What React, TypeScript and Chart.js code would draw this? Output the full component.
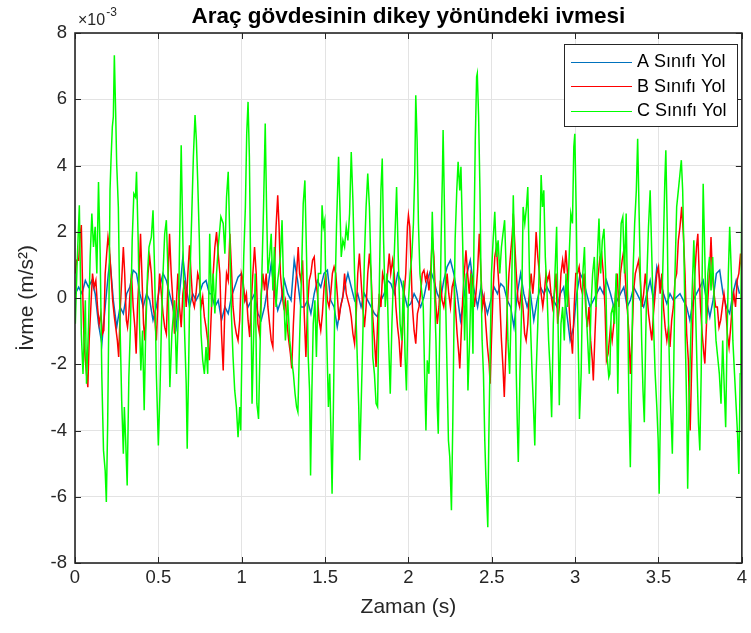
import React, { useEffect, useRef } from "react";
import { Chart, registerables } from "chart.js";

Chart.register(...registerables);

const TITLE = "Araç gövdesinin dikey yönündeki ivmesi";
const X_LABEL = "Zaman (s)";
const Y_LABEL = "İvme (m/s²)";
const Y_EXPONENT_BASE = "×10";
const Y_EXPONENT_POWER = "-3";
const SERIES_NAMES = ["A Sınıfı Yol", "B Sınıfı Yol", "C Sınıfı Yol"];
const SERIES_COLORS = ["#0072BD", "#FF0000", "#00FF00"];
const X_TICKS = [0, 0.5, 1, 1.5, 2, 2.5, 3, 3.5, 4];
const Y_TICKS = [-8, -6, -4, -2, 0, 2, 4, 6, 8];

// [time (s), acceleration (×10^-3 m/s²)]
const A_SINIFI: [number, number][] = [
  [0.002,0.13],[0.022,0.33],[0.042,0.13],[0.062,0.53],[0.081,0.33],[0.101,0.53],[0.121,0.13],[0.141,-0.78],[0.161,-1.38],[0.181,-0.27],[0.200,0.74],[0.210,1.14],[0.230,-0.07],[0.250,-0.88],[0.270,-0.27],[0.290,-0.47],[0.310,0.13],[0.329,0.33],[0.349,0.84],[0.369,0.74],[0.389,0.13],[0.409,-0.27],[0.429,0.13],[0.448,-0.07],[0.468,-0.67],[0.488,-0.27],[0.508,0.33],[0.528,0.74],[0.548,0.53],[0.567,0.13],[0.587,-0.27],[0.607,-0.88],[0.627,0.13],[0.647,1.24],[0.667,0.33],[0.687,-0.27],[0.706,0.13],[0.726,-0.07],[0.746,0.13],[0.766,0.43],[0.786,0.53],[0.806,0.13],[0.819,0.13],
  [0.839,-0.27],[0.859,-0.07],[0.879,-0.67],[0.899,-0.27],[0.919,-0.47],[0.938,0.03],[0.958,0.33],[0.978,0.63],[0.998,0.74],[1.018,0.03],[1.038,-0.27],[1.058,-0.07],[1.077,0.13],[1.097,-0.47],[1.117,-0.67],[1.137,-0.27],[1.157,0.33],[1.177,1.04],[1.196,0.13],[1.216,-0.37],[1.236,-0.07],[1.256,0.53],[1.276,0.13],[1.296,-0.07],[1.315,1.14],[1.335,0.53],[1.355,-0.27],[1.375,-0.27],[1.395,-0.07],[1.415,-0.47],[1.435,0.13],[1.454,0.53],[1.474,0.33],[1.494,0.74],[1.514,0.84],[1.534,-0.07],[1.554,-0.27],[1.573,-0.88],[1.593,-0.27],
  [1.617,0.33],[1.637,0.74],[1.657,0.33],[1.677,-0.07],[1.696,0.13],[1.716,-0.27],[1.736,0.13],[1.756,-0.07],[1.776,-0.27],[1.796,-0.47],[1.815,-0.57],[1.835,-0.07],[1.855,0.13],[1.875,0.53],[1.895,0.43],[1.915,0.13],[1.935,0.74],[1.954,0.53],[1.974,0.13],[1.994,-0.27],[2.014,-0.17],[2.034,0.13],[2.054,-0.07],[2.073,-0.27],[2.093,0.03],[2.113,0.53],[2.133,0.84],[2.153,0.53],[2.173,0.13],[2.192,-0.07],[2.212,0.53],[2.232,0.94],[2.252,1.14],[2.272,0.74],[2.292,0.13],[2.312,-0.67],[2.331,-0.07],[2.351,0.74],[2.371,1.14],[2.391,0.33],
  [2.415,-0.27],[2.435,0.33],[2.454,-0.07],[2.474,-0.47],[2.494,-0.07],[2.514,0.33],[2.534,0.13],[2.554,0.43],[2.573,0.33],[2.593,-0.07],[2.613,-0.27],[2.633,-0.88],[2.653,0.13],[2.673,0.74],[2.692,0.13],[2.712,-0.27],[2.732,0.13],[2.752,-0.67],[2.772,-0.07],[2.792,0.33],[2.812,0.13],[2.831,0.33],[2.851,0.13],[2.871,-0.07],[2.891,-0.27],[2.911,0.13],[2.931,0.33],[2.950,-0.47],[2.970,-1.28],[2.990,-0.88],[3.010,0.13],[3.030,0.74],[3.050,0.53],[3.069,0.13],[3.089,-0.27],[3.109,-0.07],[3.129,0.13],[3.149,0.33],[3.169,0.13],[3.188,0.53],
  [3.212,0.13],[3.232,-0.27],[3.252,-0.07],[3.272,0.13],[3.292,0.33],[3.312,-0.27],[3.331,-0.07],[3.351,0.33],[3.371,0.13],[3.391,-0.07],[3.411,-0.27],[3.431,0.13],[3.450,0.53],[3.470,-0.07],[3.490,0.94],[3.510,0.53],[3.530,0.13],[3.550,-0.17],[3.569,0.13],[3.589,-0.07],[3.609,0.03],[3.629,0.13],[3.649,-0.07],[3.669,-0.27],[3.688,-0.67],[3.708,-0.07],[3.728,0.13],[3.748,0.33],[3.768,0.53],[3.788,-0.07],[3.808,-0.57],[3.827,-0.07],[3.847,0.74],[3.867,0.84],[3.887,0.13],[3.907,-0.27],[3.927,-0.47],[3.946,0.13],[3.966,0.53],[3.986,0.13],
];

const B_SINIFI: [number, number][] = [
  [0.002,0.74],[0.010,1.14],[0.022,1.14],[0.032,1.94],[0.038,2.20],[0.046,0.23],[0.054,-1.28],[0.062,-1.88],[0.069,-2.29],[0.077,-2.69],[0.085,-1.28],[0.095,-0.27],[0.105,0.74],[0.115,0.33],[0.125,0.53],[0.135,-0.27],[0.145,-0.78],[0.155,-0.47],[0.165,-1.08],[0.173,-0.98],[0.181,0.74],[0.190,1.34],[0.198,1.84],[0.206,1.54],[0.216,0.74],[0.226,-0.07],[0.236,-0.57],[0.244,-0.88],[0.254,-1.28],[0.262,-1.78],[0.272,-0.27],[0.280,0.53],[0.290,1.54],[0.298,0.74],[0.308,-0.67],[0.315,-0.88],[0.323,-0.47],[0.331,0.23],[0.339,0.74],[0.349,-0.27],[0.359,-0.88],[0.367,-1.68],[0.375,-0.27],[0.385,0.74],[0.393,1.94],[0.401,0.74],[0.411,-0.78],[0.419,-1.28],[0.429,-0.07],[0.438,0.74],[0.448,1.24],[0.458,0.74],[0.468,-0.27],[0.478,-0.57],[0.488,-1.28],[0.498,-0.07],[0.508,0.74],[0.518,0.13],[0.528,-0.47],[0.538,-0.88],[0.548,-1.08],[0.558,0.53],[0.567,1.94],[0.577,0.74],[0.587,-0.07],[0.597,-1.08],[0.607,-0.27],[0.617,0.74],[0.627,-0.27],[0.637,-0.88],[0.647,0.13],[0.657,0.53],[0.667,-0.27],[0.677,0.74],[0.687,1.59],[0.696,0.74],[0.706,-0.07],[0.716,-0.27],[0.726,0.13],[0.736,0.74],[0.746,0.53],[0.756,-0.27],[0.766,0.03],[0.776,-0.57],[0.786,-0.88],[0.796,-1.28],[0.806,-1.88],
  [0.819,-0.27],[0.829,0.74],[0.839,1.54],[0.849,1.99],[0.859,1.34],[0.869,0.74],[0.879,-1.08],[0.889,-2.19],[0.899,-0.27],[0.909,0.74],[0.919,0.53],[0.929,1.94],[0.938,0.94],[0.948,-0.27],[0.958,-0.78],[0.968,-1.08],[0.978,-1.28],[0.988,-0.67],[0.998,0.74],[1.008,0.53],[1.018,-0.07],[1.028,0.13],[1.038,-0.67],[1.048,-1.18],[1.058,-0.07],[1.067,0.74],[1.077,1.54],[1.087,0.74],[1.097,-0.78],[1.107,-1.08],[1.117,0.13],[1.127,0.74],[1.137,0.23],[1.147,0.74],[1.157,-0.27],[1.167,-0.78],[1.177,-1.28],[1.187,-1.48],[1.196,0.74],[1.206,2.15],[1.216,3.10],[1.224,2.15],[1.232,0.74],[1.242,0.13],[1.252,-0.27],[1.262,-0.07],[1.272,-0.78],[1.282,-1.28],[1.292,-1.68],[1.300,-2.13],[1.310,-0.78],[1.319,0.13],[1.329,0.74],[1.339,1.54],[1.347,0.74],[1.355,0.53],[1.365,1.14],[1.375,-0.47],[1.385,-1.78],[1.395,-0.27],[1.405,0.53],[1.415,0.74],[1.425,1.14],[1.435,1.24],[1.444,0.53],[1.454,0.13],[1.464,-0.67],[1.474,-0.98],[1.484,-0.47],[1.494,0.33],[1.504,0.74],[1.514,-0.07],[1.524,-0.27],[1.534,0.13],[1.544,0.74],[1.554,0.94],[1.564,0.74],[1.573,0.13],[1.583,-0.67],[1.593,-0.27],
  [1.607,0.03],[1.617,0.74],[1.627,0.13],[1.637,-0.07],[1.647,-0.27],[1.657,-0.57],[1.667,-1.08],[1.677,-1.38],[1.687,-0.47],[1.696,0.74],[1.706,1.34],[1.716,0.53],[1.726,-0.27],[1.736,-0.88],[1.746,-0.27],[1.756,0.74],[1.766,1.34],[1.776,0.74],[1.786,-0.57],[1.796,-1.28],[1.806,-2.08],[1.815,-0.78],[1.825,0.13],[1.835,-0.27],[1.845,0.74],[1.855,0.53],[1.865,0.13],[1.875,0.74],[1.885,1.34],[1.894,0.74],[1.905,1.14],[1.915,0.74],[1.925,-0.27],[1.935,-0.88],[1.944,-1.28],[1.954,-2.08],[1.964,-1.08],[1.974,0.13],[1.984,0.74],[1.994,2.15],[2.000,2.50],[2.008,2.15],[2.014,1.24],[2.024,-0.27],[2.034,-0.98],[2.044,-1.38],[2.054,-0.47],[2.063,-0.27],[2.073,0.13],[2.083,0.74],[2.093,0.84],[2.103,0.53],[2.113,0.74],[2.123,0.23],[2.133,0.74],[2.143,1.84],[2.153,1.24],[2.163,-0.07],[2.173,-0.78],[2.183,-0.27],[2.192,0.53],[2.202,-0.07],[2.212,-0.27],[2.222,0.13],[2.232,0.74],[2.242,0.13],[2.252,-0.27],[2.262,0.33],[2.272,0.53],[2.282,-0.27],[2.292,-1.08],[2.302,-1.68],[2.308,-2.13],[2.315,-1.28],[2.325,-0.07],[2.335,0.74],[2.345,1.44],[2.355,0.74],[2.365,0.13],[2.375,0.74],[2.385,0.53],[2.395,-0.27],[2.405,0.13],
  [2.415,0.84],[2.425,1.94],[2.435,0.74],[2.444,-0.27],[2.454,0.03],[2.464,-0.78],[2.474,-1.48],[2.484,-1.98],[2.490,-2.59],[2.498,-1.28],[2.508,0.23],[2.518,1.24],[2.528,1.54],[2.538,0.74],[2.548,-0.07],[2.558,-1.28],[2.567,-2.08],[2.575,-2.99],[2.583,-1.78],[2.593,-0.27],[2.603,0.74],[2.613,1.34],[2.623,1.94],[2.629,2.55],[2.637,1.74],[2.647,0.74],[2.657,-0.07],[2.667,-0.27],[2.677,0.23],[2.687,-0.27],[2.697,-1.08],[2.706,-1.28],[2.716,-0.78],[2.726,0.23],[2.736,0.74],[2.746,0.13],[2.756,0.74],[2.766,1.99],[2.776,1.24],[2.786,0.74],[2.796,0.13],[2.806,-0.27],[2.815,0.13],[2.825,0.74],[2.835,0.53],[2.845,0.74],[2.855,0.13],[2.865,-0.27],[2.875,0.13],[2.885,0.74],[2.895,-0.78],[2.905,-0.27],[2.915,0.74],[2.925,1.14],[2.935,0.74],[2.944,1.44],[2.954,0.74],[2.964,-0.27],[2.974,-1.08],[2.984,-1.68],[2.994,-0.27],[3.004,0.74],[3.014,0.74],[3.024,0.94],[3.034,0.33],[3.044,0.13],[3.054,0.74],[3.063,-0.27],[3.073,-0.88],[3.083,-0.27],[3.093,-1.28],[3.103,-1.88],[3.109,-2.49],[3.119,-1.08],[3.129,0.13],[3.139,0.74],[3.149,1.24],[3.159,1.34],[3.169,0.74],[3.179,-0.27],[3.188,-1.88],[3.198,-1.68],
  [3.212,-0.88],[3.222,-1.28],[3.232,-0.78],[3.242,0.13],[3.252,0.74],[3.262,-0.27],[3.272,0.74],[3.282,1.14],[3.292,1.44],[3.302,0.53],[3.312,-0.27],[3.323,-1.08],[3.331,-2.29],[3.341,-1.28],[3.351,0.23],[3.361,0.74],[3.371,0.94],[3.381,1.14],[3.391,0.53],[3.401,-0.27],[3.411,0.13],[3.421,0.74],[3.431,0.13],[3.440,-0.47],[3.450,-0.88],[3.460,-1.28],[3.470,-0.47],[3.480,0.13],[3.490,0.74],[3.500,0.94],[3.510,0.13],[3.520,0.74],[3.530,-0.27],[3.540,-0.88],[3.550,-1.28],[3.560,-0.88],[3.569,-1.48],[3.579,-0.67],[3.589,-0.27],[3.599,0.53],[3.609,0.74],[3.619,1.74],[3.629,2.15],[3.639,2.75],[3.649,1.94],[3.659,0.74],[3.669,-1.08],[3.679,-1.88],[3.685,-3.29],[3.690,-4.00],[3.698,-2.29],[3.708,-0.27],[3.718,0.74],[3.728,1.54],[3.736,1.94],[3.744,0.74],[3.752,-0.27],[3.762,-1.08],[3.772,-1.68],[3.778,-1.98],[3.788,-0.78],[3.798,0.13],[3.808,0.94],[3.815,1.84],[3.823,0.74],[3.833,0.13],[3.843,-0.27],[3.853,-0.27],[3.863,-0.88],[3.873,-0.67],[3.883,-0.27],[3.893,0.13],[3.903,-0.27],[3.913,-1.08],[3.923,-1.48],[3.933,-0.88],[3.942,-0.27],[3.952,0.13],[3.962,-0.27],[3.972,0.53],[3.982,0.74],[3.992,1.34],[4.000,0.74],
];

const C_SINIFI: [number, number][] = [
  [0.002,-0.78],[0.012,0.94],[0.026,2.80],[0.038,-1.08],[0.048,-2.29],[0.062,-0.07],[0.069,-2.59],[0.081,-0.88],[0.091,1.24],[0.101,2.55],[0.111,1.54],[0.121,2.15],[0.131,0.74],[0.141,3.50],[0.151,1.34],[0.161,-2.39],[0.171,-4.60],[0.181,-5.21],[0.188,-6.16],[0.196,-3.80],[0.204,-0.07],[0.210,3.25],[0.216,4.16],[0.224,5.17],[0.230,5.47],[0.236,7.33],[0.244,5.57],[0.250,4.06],[0.260,2.75],[0.270,-0.78],[0.280,-3.09],[0.290,-4.70],[0.296,-3.29],[0.304,-4.30],[0.313,-5.66],[0.323,-2.39],[0.333,-0.78],[0.343,1.74],[0.353,3.15],[0.363,3.05],[0.369,3.81],[0.379,1.74],[0.387,-0.78],[0.395,-2.19],[0.405,-0.98],[0.415,-3.39],[0.423,-1.28],[0.435,0.74],[0.444,1.54],[0.458,1.84],[0.468,2.65],[0.478,0.74],[0.488,-2.29],[0.500,-4.45],[0.510,-2.79],[0.518,-0.88],[0.528,0.74],[0.538,1.94],[0.548,2.35],[0.558,0.74],[0.569,-2.69],[0.581,-1.08],[0.597,-0.07],[0.609,-2.29],[0.621,-0.27],[0.637,4.61],[0.647,1.74],[0.657,-0.98],[0.667,-2.59],[0.673,-4.55],[0.681,-2.29],[0.690,0.74],[0.700,2.45],[0.710,4.26],[0.720,5.52],[0.728,4.76],[0.736,3.55],[0.746,1.74],[0.756,-1.08],[0.766,-1.88],[0.776,-2.29],[0.786,-1.48],[0.796,-2.29],
  [0.808,1.94],[0.819,-0.27],[0.829,0.74],[0.839,-0.47],[0.849,0.74],[0.859,1.54],[0.875,2.45],[0.889,2.25],[0.899,1.34],[0.909,3.05],[0.919,3.81],[0.929,1.74],[0.938,-0.47],[0.948,-1.78],[0.958,-2.79],[0.968,-3.29],[0.978,-4.20],[0.988,-3.29],[0.994,-4.00],[1.002,-1.28],[1.012,1.24],[1.022,2.75],[1.030,4.96],[1.038,5.92],[1.046,4.26],[1.054,0.74],[1.062,-3.19],[1.071,-1.28],[1.081,0.74],[1.091,-3.19],[1.101,-3.65],[1.111,-1.28],[1.121,0.74],[1.131,2.75],[1.141,5.27],[1.149,2.75],[1.157,0.74],[1.167,1.24],[1.177,1.94],[1.187,0.23],[1.196,1.54],[1.206,-0.27],[1.216,0.53],[1.232,1.24],[1.242,2.35],[1.252,0.13],[1.262,-1.28],[1.276,-0.07],[1.288,-1.28],[1.300,-1.88],[1.310,-2.29],[1.320,-2.89],[1.329,-3.29],[1.337,-3.44],[1.347,-1.28],[1.359,0.74],[1.369,2.85],[1.379,3.55],[1.389,1.24],[1.399,-1.78],[1.407,-2.79],[1.413,-5.36],[1.421,-2.79],[1.429,-0.78],[1.439,-0.07],[1.448,-1.78],[1.460,0.74],[1.474,0.74],[1.482,2.80],[1.490,2.15],[1.498,2.35],[1.508,-0.78],[1.520,-3.29],[1.528,-2.29],[1.536,-4.30],[1.542,-5.91],[1.550,-3.29],[1.558,-0.27],[1.569,2.25],[1.581,4.26],[1.589,2.75],
  [1.597,1.24],[1.607,1.74],[1.617,1.54],[1.627,2.15],[1.637,1.74],[1.647,2.55],[1.657,4.41],[1.667,2.95],[1.677,0.74],[1.687,-0.78],[1.696,-2.29],[1.702,-3.29],[1.708,-4.90],[1.716,-3.29],[1.726,-1.28],[1.736,1.24],[1.746,2.75],[1.756,3.76],[1.766,2.75],[1.776,0.74],[1.786,-1.78],[1.796,-2.29],[1.806,-3.19],[1.815,-3.29],[1.825,0.23],[1.835,3.25],[1.843,4.21],[1.851,1.74],[1.861,-0.27],[1.871,0.74],[1.881,-1.28],[1.891,-2.89],[1.901,-0.78],[1.911,0.74],[1.921,2.15],[1.929,3.35],[1.939,1.24],[1.950,-0.78],[1.960,-1.28],[1.970,0.53],[1.980,-1.78],[1.988,-2.79],[1.998,-0.27],[2.010,0.74],[2.020,1.24],[2.030,2.25],[2.038,3.76],[2.044,6.12],[2.052,4.76],[2.060,2.25],[2.069,0.74],[2.079,0.23],[2.089,-0.27],[2.097,-2.29],[2.105,-4.00],[2.113,-1.88],[2.123,-2.29],[2.133,-0.27],[2.143,2.60],[2.153,0.74],[2.165,-1.28],[2.173,-3.29],[2.179,-4.10],[2.187,-1.28],[2.196,1.74],[2.204,3.76],[2.208,5.07],[2.216,2.75],[2.224,-0.27],[2.232,-2.29],[2.240,-4.30],[2.248,-4.80],[2.258,-6.41],[2.266,-3.80],[2.272,-1.28],[2.280,1.74],[2.290,3.25],[2.298,4.11],[2.308,3.25],[2.315,3.96],[2.325,1.74],[2.337,-1.28],[2.347,0.74],[2.357,-2.79],[2.367,-1.28],[2.377,0.74],[2.387,-1.68],[2.393,1.74],[2.401,4.76],[2.409,6.68],
  [2.413,6.78],[2.421,5.47],[2.429,3.25],[2.435,0.74],[2.442,-1.28],[2.450,-2.29],[2.458,-4.30],[2.464,-5.31],[2.470,-6.11],[2.476,-6.92],[2.482,-4.30],[2.490,-1.78],[2.498,0.74],[2.508,1.74],[2.518,2.60],[2.528,1.24],[2.538,1.74],[2.548,0.74],[2.558,1.54],[2.567,1.94],[2.577,2.35],[2.587,0.74],[2.597,-1.28],[2.607,-2.29],[2.617,-0.27],[2.629,3.10],[2.639,0.74],[2.647,-2.29],[2.653,-3.80],[2.659,-4.95],[2.669,-2.29],[2.679,-0.27],[2.688,2.75],[2.698,2.25],[2.708,2.75],[2.716,3.35],[2.724,1.24],[2.732,-0.78],[2.742,-2.29],[2.750,-3.29],[2.758,-4.45],[2.766,-2.29],[2.776,-0.78],[2.786,1.24],[2.796,3.71],[2.804,2.75],[2.812,3.25],[2.821,1.24],[2.831,0.23],[2.841,-1.28],[2.851,-2.29],[2.859,-3.60],[2.869,-0.78],[2.879,0.74],[2.889,2.15],[2.899,-1.28],[2.905,-3.24],[2.915,-0.78],[2.925,-0.27],[2.935,-1.28],[2.945,0.74],[2.954,-0.27],[2.964,1.24],[2.974,2.55],[2.984,2.25],[2.992,4.56],[2.998,4.96],[3.006,2.75],[3.014,-0.27],[3.022,-2.29],[3.026,-3.65],[3.036,-2.29],[3.046,0.74],[3.056,1.54],[3.065,-0.27],[3.075,-1.28],[3.085,-2.29],[3.095,-0.27],[3.105,0.74],[3.115,1.24],[3.125,-0.27],[3.135,1.44],[3.143,2.40],[3.153,0.74],[3.163,1.74],[3.173,2.09],[3.183,0.74],[3.192,-1.78],[3.202,-2.39],
  [3.208,-2.29],[3.216,-0.47],[3.226,-0.27],[3.236,-0.78],[3.246,0.74],[3.256,-2.89],[3.266,0.74],[3.276,2.25],[3.286,2.45],[3.296,0.74],[3.306,2.55],[3.315,-0.27],[3.323,-3.29],[3.331,-5.11],[3.339,-2.29],[3.347,0.74],[3.357,2.25],[3.367,3.25],[3.375,4.81],[3.383,2.75],[3.391,0.74],[3.399,-1.28],[3.407,-2.79],[3.415,-3.75],[3.423,-1.28],[3.431,0.74],[3.440,2.15],[3.450,3.25],[3.460,1.24],[3.470,-0.78],[3.480,-2.29],[3.490,-3.29],[3.498,-4.30],[3.504,-5.91],[3.512,-3.29],[3.520,-0.27],[3.530,1.74],[3.538,3.55],[3.544,4.46],[3.552,2.25],[3.560,-0.78],[3.569,-2.79],[3.577,-3.80],[3.583,-4.70],[3.591,-2.29],[3.599,0.74],[3.609,2.75],[3.619,3.25],[3.629,3.76],[3.637,4.16],[3.645,3.25],[3.653,1.24],[3.661,-1.28],[3.669,-3.29],[3.675,-5.76],[3.683,-3.29],[3.693,-1.28],[3.702,0.23],[3.712,1.74],[3.722,-0.27],[3.732,-2.29],[3.740,-3.80],[3.748,-4.60],[3.756,-2.29],[3.762,0.74],[3.768,3.45],[3.778,1.24],[3.786,-0.78],[3.796,0.74],[3.806,1.24],[3.815,0.23],[3.825,1.24],[3.835,-0.27],[3.845,-1.28],[3.855,-1.78],[3.865,-2.29],[3.875,-3.19],[3.885,-1.28],[3.895,-2.79],[3.903,-3.90],[3.911,-1.28],[3.919,0.74],[3.927,2.15],[3.937,0.74],[3.946,-1.28],[3.956,-2.29],[3.966,-3.29],[3.974,-4.10],[3.982,-5.31],[3.990,-2.29],[3.994,-0.27],[4.000,3.25],
];

const SERIES = [A_SINIFI, B_SINIFI, C_SINIFI];
const FONT = "'Liberation Sans', Arial, Helvetica, sans-serif";
const AXIS_COLOR = "#262626";

function hasFont(name: string): boolean {
  try {
    const c = document.createElement("canvas").getContext("2d");
    if (!c) return false;
    const sample = "0.5 1.5 Zaman mmmWWiil";
    c.font = "40px monospace";
    const a = c.measureText(sample).width;
    c.font = `40px '${name}', monospace`;
    const b = c.measureText(sample).width;
    return Math.abs(a - b) > 0.5;
  } catch (e) {
    return false;
  }
}

const matlabDecor = {
  id: "matlabDecor",
  afterDraw(chart: any) {
    const { ctx, chartArea, scales } = chart;
    const { left, right, top, bottom } = chartArea;
    const xs = scales.x;
    const ys = scales.y;
    ctx.save();
    ctx.strokeStyle = AXIS_COLOR;
    ctx.lineWidth = 1;
    const tl = 6;
    ctx.beginPath();
    X_TICKS.forEach((t) => {
      const px = Math.round(xs.getPixelForValue(t)) + 0.5;
      ctx.moveTo(px, bottom);
      ctx.lineTo(px, bottom - tl);
      ctx.moveTo(px, top);
      ctx.lineTo(px, top + tl);
    });
    Y_TICKS.forEach((v) => {
      const py = Math.round(ys.getPixelForValue(v)) + 0.5;
      ctx.moveTo(left, py);
      ctx.lineTo(left + tl, py);
      ctx.moveTo(right, py);
      ctx.lineTo(right - tl, py);
    });
    ctx.stroke();
    ctx.lineWidth = 1.6;
    ctx.strokeRect(left, top, right - left, bottom - top);

    // exponent label
    ctx.fillStyle = AXIS_COLOR;
    ctx.textBaseline = "alphabetic";
    ctx.textAlign = "left";
    ctx.font = `16px ${FONT}`;
    ctx.fillText(Y_EXPONENT_BASE, left + 3, top - 8);
    const bw = ctx.measureText(Y_EXPONENT_BASE).width;
    ctx.font = `12px ${FONT}`;
    ctx.fillText(Y_EXPONENT_POWER, left + 3 + bw + 1, top - 17);

    // title
    ctx.fillStyle = "#000";
    ctx.font = `bold 22.5px ${FONT}`;
    ctx.textAlign = "center";
    ctx.textBaseline = "middle";
    ctx.fillText(TITLE, (left + right) / 2, 17);

    // legend
    const lx = 564.5, ly = 44.5, lw = 173, lh = 82;
    ctx.fillStyle = "#fff";
    ctx.fillRect(lx, ly, lw, lh);
    ctx.strokeStyle = AXIS_COLOR;
    ctx.lineWidth = 1;
    ctx.strokeRect(lx, ly, lw, lh);
    ctx.font = `18px ${FONT}`;
    ctx.textAlign = "left";
    ctx.textBaseline = "middle";
    SERIES_NAMES.forEach((name, i) => {
      const yy = 61.5 + i * 24.5;
      ctx.strokeStyle = SERIES_COLORS[i];
      ctx.lineWidth = 1.2;
      ctx.beginPath();
      ctx.moveTo(571, Math.round(yy) + 0.5);
      ctx.lineTo(632, Math.round(yy) + 0.5);
      ctx.stroke();
      ctx.fillStyle = "#000";
      ctx.fillText(name, 637, yy + 1);
    });
    ctx.restore();
  },
};

export default function App() {
  const canvasRef = useRef<HTMLCanvasElement | null>(null);

  useEffect(() => {
    const canvas = canvasRef.current;
    if (!canvas) return;
    const narrow = hasFont("Liberation Sans Narrow");
    const tickFont = narrow
      ? { family: "'Liberation Sans Narrow', 'Liberation Sans', Arial, sans-serif", size: 21 }
      : { family: FONT, size: 18.5 };
    const chart = new Chart(canvas, {
      type: "line",
      data: {
        datasets: SERIES.map((s, i) => ({
          label: SERIES_NAMES[i],
          data: s.map(([t, v]) => ({ x: t, y: v })),
          borderColor: SERIES_COLORS[i],
          backgroundColor: SERIES_COLORS[i],
          borderWidth: 1.5,
          pointRadius: 0,
          tension: 0,
          fill: false,
          order: 2 - i,
        })),
      },
      options: {
        animation: false,
        responsive: false,
        devicePixelRatio: 1,
        events: [],
        layout: { padding: { top: 33, right: 4, left: 0, bottom: 0 } },
        plugins: {
          legend: { display: false },
          title: { display: false },
          tooltip: { enabled: false },
        },
        scales: {
          x: {
            type: "linear",
            min: 0,
            max: 4,
            afterFit: (scale: any) => {
              scale.height = 70;
            },
            afterBuildTicks: (scale: any) => {
              scale.ticks = X_TICKS.map((v) => ({ value: v }));
            },
            ticks: {
              padding: 4,
              color: AXIS_COLOR,
              font: tickFont,
              maxRotation: 0,
              autoSkip: false,
              callback: (v: any) => String(v),
            },
            grid: { color: "#e3e3e3", drawTicks: false, lineWidth: 1 },
            border: { display: false },
            title: {
              display: true,
              text: X_LABEL,
              color: AXIS_COLOR,
              font: { family: FONT, size: 21 },
              padding: { top: 0, bottom: 13 },
            },
          },
          y: {
            type: "linear",
            min: -8,
            max: 8,
            afterFit: (scale: any) => {
              scale.width = 75;
            },
            afterBuildTicks: (scale: any) => {
              scale.ticks = Y_TICKS.map((v) => ({ value: v }));
            },
            ticks: {
              padding: 8,
              color: AXIS_COLOR,
              font: tickFont,
              autoSkip: false,
              callback: (v: any) => String(v),
            },
            grid: { color: "#e3e3e3", drawTicks: false, lineWidth: 1 },
            border: { display: false },
            title: {
              display: true,
              text: Y_LABEL,
              color: AXIS_COLOR,
              font: { family: FONT, size: 21 },
              padding: { top: 15, bottom: 0 },
            },
          },
        },
      },
      plugins: [matlabDecor],
    });
    return () => chart.destroy();
  }, []);

  return (
    <div style={{ position: "absolute", left: 0, top: 0, width: 751, height: 633, background: "#fff" }}>
      <canvas ref={canvasRef} width={751} height={633} style={{ display: "block" }} />
    </div>
  );
}
